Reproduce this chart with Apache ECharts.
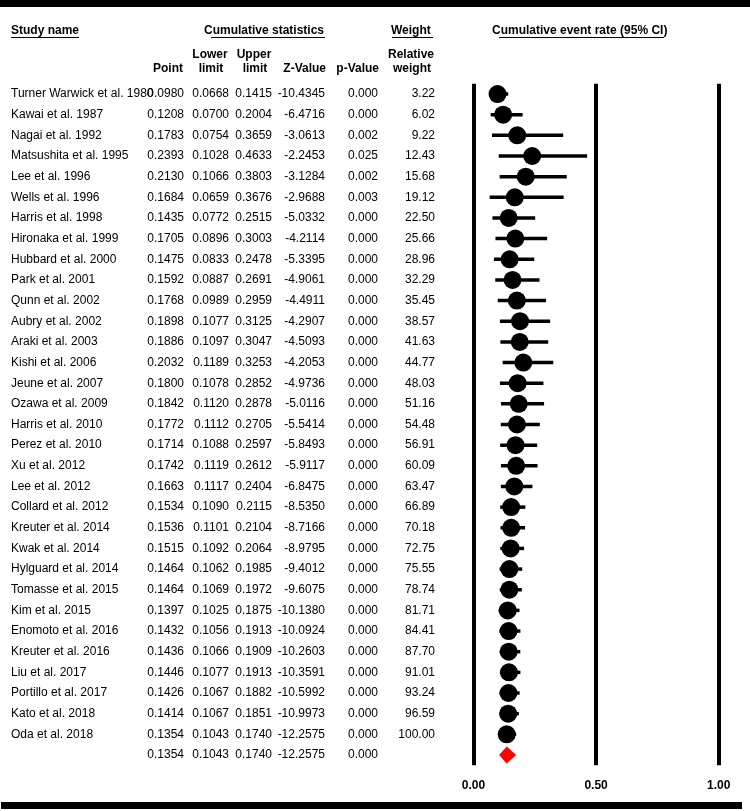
<!DOCTYPE html>
<html><head><meta charset="utf-8">
<script src="https://cdn.jsdelivr.net/npm/echarts@6/dist/echarts.min.js"></script>
<style>html,body{margin:0;padding:0;background:#fff}#c{width:750px;height:811px}</style>
</head><body><div id="c"></div>
<script>
const studies = ["Turner Warwick et al. 1980","Kawai et al. 1987","Nagai et al. 1992","Matsushita et al. 1995","Lee et al. 1996","Wells et al. 1996","Harris et al. 1998","Hironaka et al. 1999","Hubbard et al. 2000","Park et al. 2001","Qunn et al. 2002","Aubry et al. 2002","Araki et al. 2003","Kishi et al. 2006","Jeune et al. 2007","Ozawa et al. 2009","Harris et al. 2010","Perez et al. 2010","Xu et al. 2012","Lee et al. 2012","Collard et al. 2012","Kreuter et al. 2014","Kwak et al. 2014","Hylguard et al. 2014","Tomasse et al. 2015","Kim et al. 2015","Enomoto et al. 2016","Kreuter et al. 2016","Liu et al. 2017","Portillo et al. 2017","Kato et al. 2018","Oda et al. 2018"];
const pointVals = [0.0980,0.1208,0.1783,0.2393,0.2130,0.1684,0.1435,0.1705,0.1475,0.1592,0.1768,0.1898,0.1886,0.2032,0.1800,0.1842,0.1772,0.1714,0.1742,0.1663,0.1534,0.1536,0.1515,0.1464,0.1464,0.1397,0.1432,0.1436,0.1446,0.1426,0.1414,0.1354];
const lowerVals = [0.0668,0.0700,0.0754,0.1028,0.1066,0.0659,0.0772,0.0896,0.0833,0.0887,0.0989,0.1077,0.1097,0.1189,0.1078,0.1120,0.1112,0.1088,0.1119,0.1117,0.1090,0.1101,0.1092,0.1062,0.1069,0.1025,0.1056,0.1066,0.1077,0.1067,0.1067,0.1043];
const upperVals = [0.1415,0.2004,0.3659,0.4633,0.3803,0.3676,0.2515,0.3003,0.2478,0.2691,0.2959,0.3125,0.3047,0.3253,0.2852,0.2878,0.2705,0.2597,0.2612,0.2404,0.2115,0.2104,0.2064,0.1985,0.1972,0.1875,0.1913,0.1909,0.1913,0.1882,0.1851,0.1740];
const zVals = [-10.4345,-6.4716,-3.0613,-2.2453,-3.1284,-2.9688,-5.0332,-4.2114,-5.3395,-4.9061,-4.4911,-4.2907,-4.5093,-4.2053,-4.9736,-5.0116,-5.5414,-5.8493,-5.9117,-6.8475,-8.5350,-8.7166,-8.9795,-9.4012,-9.6075,-10.1380,-10.0924,-10.2603,-10.3591,-10.5992,-10.9973,-12.2575];
const pVals = [0.000,0.000,0.002,0.025,0.002,0.003,0.000,0.000,0.000,0.000,0.000,0.000,0.000,0.000,0.000,0.000,0.000,0.000,0.000,0.000,0.000,0.000,0.000,0.000,0.000,0.000,0.000,0.000,0.000,0.000,0.000,0.000];
const weights = [3.22,6.02,9.22,12.43,15.68,19.12,22.50,25.66,28.96,32.29,35.45,38.57,41.63,44.77,48.03,51.16,54.48,56.91,60.09,63.47,66.89,70.18,72.75,75.55,78.74,81.71,84.41,87.70,91.01,93.24,96.59,100.00];
// summary (pooled) row: point, lower, upper, z, p
const summaryVals = [0.1354,0.1043,0.1740,-12.2575,0.000];
const xTicks = [0, 0.5, 1];
const xTickLabels = ["0.00","0.50","1.00"];

const FONT = '"Liberation Sans", Arial, sans-serif';
const nRows = studies.length + 1;
const rowIdx = studies.map((s,i)=>i);

const chart = echarts.init(document.getElementById('c'), null, {renderer:'canvas'});

// column right edges for table
const colRight = [184, 229, 272, 325, 378, 435];

const tableData = [];
for (let i=0;i<studies.length;i++) tableData.push([0,i]);
tableData.push([0,studies.length]);

function txt(text, x, y, align, bold) {
  return {type:'text', style:{text:text, x:x, y:y, align:align, verticalAlign:'middle', font:(bold?'bold ':'')+'12px '+FONT, fill:'#000'}};
}

const option = {
  animation:false,
  backgroundColor:'#fff',
  grid:{left:473.5, right:31.3, top:83.7, bottom:45.7},
  xAxis:{type:'value', min:xTicks[0], max:xTicks[xTicks.length-1], interval:0.5,
    axisLine:{show:false}, axisTick:{show:false},
    splitLine:{show:true, showMinLine:true, showMaxLine:true, lineStyle:{color:'#000', width:4}},
    axisLabel:{margin:14, fontFamily:FONT, fontSize:12, fontWeight:'bold', color:'#000',
      formatter:function(v){const k=xTicks.indexOf(v);return k>=0?xTickLabels[k]:'';}}},
  yAxis:{type:'value', min:-0.5, max:nRows-0.5, inverse:true, show:false},
  graphic:[
    {type:'rect', shape:{x:0,y:0,width:750,height:7}, style:{fill:'#000'}},
    {type:'rect', shape:{x:1,y:802,width:741,height:7}, style:{fill:'#000'}},
    {type:'text', style:{text:'Study name', x:11, y:31, verticalAlign:'middle', font:'bold 12px '+FONT, fill:'#000'}},
    {type:'line', shape:{x1:11,y1:37.5,x2:79,y2:37.5}, style:{stroke:'#000', lineWidth:1}},
    {type:'text', style:{text:'Cumulative statistics', x:204, y:31, verticalAlign:'middle', font:'bold 12px '+FONT, fill:'#000'}},
    {type:'line', shape:{x1:211,y1:37.5,x2:325,y2:37.5}, style:{stroke:'#000', lineWidth:1}},
    {type:'text', style:{text:'Weight', x:391, y:31, verticalAlign:'middle', font:'bold 12px '+FONT, fill:'#000'}},
    {type:'line', shape:{x1:392,y1:37.5,x2:433,y2:37.5}, style:{stroke:'#000', lineWidth:1}},
    {type:'text', style:{text:'Cumulative event rate (95% CI)', x:492, y:31, verticalAlign:'middle', font:'bold 12px '+FONT, fill:'#000'}},
    {type:'line', shape:{x1:499,y1:37.5,x2:664,y2:37.5}, style:{stroke:'#000', lineWidth:1}},
    {type:'text', style:{text:'Point', x:183, y:69, align:'right', verticalAlign:'middle', font:'bold 12px '+FONT, fill:'#000'}},
    {type:'text', style:{text:'Lower', x:210, y:55, align:'center', verticalAlign:'middle', font:'bold 12px '+FONT, fill:'#000'}},
    {type:'text', style:{text:'limit', x:211, y:69, align:'center', verticalAlign:'middle', font:'bold 12px '+FONT, fill:'#000'}},
    {type:'text', style:{text:'Upper', x:254, y:55, align:'center', verticalAlign:'middle', font:'bold 12px '+FONT, fill:'#000'}},
    {type:'text', style:{text:'limit', x:255, y:69, align:'center', verticalAlign:'middle', font:'bold 12px '+FONT, fill:'#000'}},
    {type:'text', style:{text:'Z-Value', x:326, y:69, align:'right', verticalAlign:'middle', font:'bold 12px '+FONT, fill:'#000'}},
    {type:'text', style:{text:'p-Value', x:379, y:69, align:'right', verticalAlign:'middle', font:'bold 12px '+FONT, fill:'#000'}},
    {type:'text', style:{text:'Relative', x:411, y:55, align:'center', verticalAlign:'middle', font:'bold 12px '+FONT, fill:'#000'}},
    {type:'text', style:{text:'weight', x:412, y:69, align:'center', verticalAlign:'middle', font:'bold 12px '+FONT, fill:'#000'}}
  ],
  series:[
    {type:'custom', name:'table', clip:false, silent:true, data:tableData,
      renderItem:function(params, api){
        const i = api.value(1);
        const y = api.coord([0,i])[1];
        const ch = [];
        if (i < studies.length) {
          ch.push(txt(studies[i], 11, y, 'left'));
          ch.push(txt(pointVals[i].toFixed(4), colRight[0], y, 'right'));
          ch.push(txt(lowerVals[i].toFixed(4), colRight[1], y, 'right'));
          ch.push(txt(upperVals[i].toFixed(4), colRight[2], y, 'right'));
          ch.push(txt(zVals[i].toFixed(4), colRight[3], y, 'right'));
          ch.push(txt(pVals[i].toFixed(3), colRight[4], y, 'right'));
          ch.push(txt(weights[i].toFixed(2), colRight[5], y, 'right'));
        } else {
          ch.push(txt(summaryVals[0].toFixed(4), colRight[0], y, 'right'));
          ch.push(txt(summaryVals[1].toFixed(4), colRight[1], y, 'right'));
          ch.push(txt(summaryVals[2].toFixed(4), colRight[2], y, 'right'));
          ch.push(txt(summaryVals[3].toFixed(4), colRight[3], y, 'right'));
          ch.push(txt(summaryVals[4].toFixed(3), colRight[4], y, 'right'));
        }
        return {type:'group', children:ch};
      }},
    {type:'custom', name:'ci', clip:false, silent:true, z:3,
      data:rowIdx.map(i=>[lowerVals[i], upperVals[i], i]),
      renderItem:function(params, api){
        const a = api.coord([api.value(0), api.value(2)]);
        const b = api.coord([api.value(1), api.value(2)]);
        return {type:'line', shape:{x1:a[0],y1:a[1],x2:b[0],y2:b[1]}, style:{stroke:'#000', lineWidth:3.5}};
      }},
    {type:'scatter', name:'point', z:4, symbol:'circle', symbolSize:18, silent:true,
      itemStyle:{color:'#000', opacity:1},
      data:rowIdx.map(i=>[pointVals[i], i])},
    {type:'custom', name:'summary', clip:false, silent:true, z:4,
      data:[[summaryVals[0], summaryVals[1], summaryVals[2], studies.length]],
      renderItem:function(params, api){
        const r = api.value(3);
        const c = api.coord([api.value(0), r]);
        const l = api.coord([api.value(1), r]);
        const u = api.coord([api.value(2), r]);
        const h = 8.5;
        return {type:'polygon', shape:{points:[[l[0],c[1]],[c[0],c[1]-h],[u[0],c[1]],[c[0],c[1]+h]]}, style:{fill:'#ff0000'}};
      }}
  ]
};
chart.setOption(option);
</script>
</body></html>
